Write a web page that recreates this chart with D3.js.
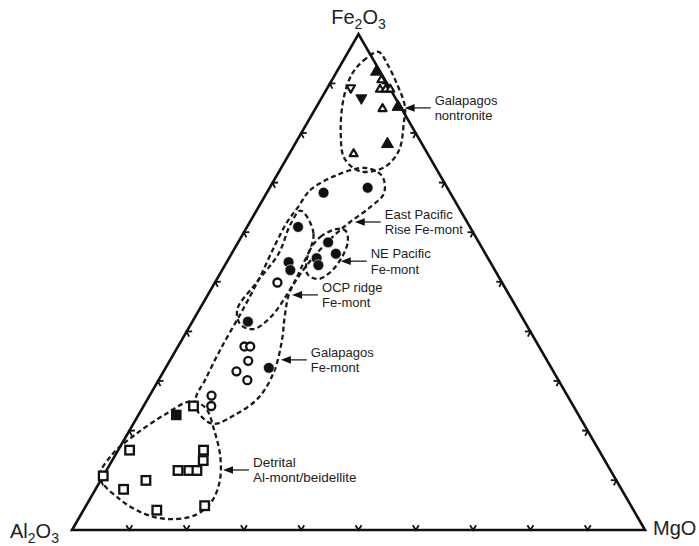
<!DOCTYPE html>
<html><head><meta charset="utf-8">
<script src="https://cdn.jsdelivr.net/npm/d3@7"></script>
<style>body{margin:0;background:#fff}svg{display:block}text{font-family:"Liberation Sans",Arial,Helvetica,sans-serif}</style>
</head><body>
<svg id="c" width="699" height="546"></svg>
<script>
// All compositions as [Fe2O3 %, MgO %]; Al2O3 = 100 - Fe2O3 - MgO
const tickValues = [10,20,30,40,50,60,70,80,90];

const nontroniteFilledUp = [[92.5,6.9],[85.4,14.2],[77.9,16.1]];
const nontroniteOpenUp = [[90.8,8.6],[88.9,9.3],[88.9,10.3],[88.9,11.1],[85.0,11.7],[75.9,11.2]];
const nontroniteOpenDown = [[89.1,4.1]];
const nontroniteFilledDown = [[87.0,7.0]];
const filledCircles = [[68.0,9.9],[69.0,17.1],[61.1,8.9],[54.0,10.8],[52.4,11.9],
  [58.0,15.7],[55.7,18.2],[54.8,15.3],[53.4,16.3],[42.0,9.7],[32.7,18.0]];
const openCircles = [[49.9,10.9],[37.0,11.6],[37.0,12.6],[34.1,13.7],[32.0,12.7],[30.2,15.5],[27.1,10.8],[25.0,11.8]];
const filledSquares = [[23.2,6.6]];
const openSquares = [[25.0,8.7],[16.1,2.0],[10.9,0],[8.2,4.9],[10.0,7.9],[12.0,12.5],[12.0,14.4],[12.0,15.8],
  [16.1,14.9],[14.0,15.9],[4.0,12.8],[4.9,20.7]];

const envNontronite = [[96.4,5.3],[95.1,3.8],[92.1,2.9],[87.0,3.9],[80.0,6.9],[74.9,10.1],[72.3,14.2],[73.1,17.9],
  [76.5,18.8],[82.0,16.9],[85.4,15.4],[90.1,11.6],[93.9,8.1]];
const envEPR = [[65.1,6.9],[68.5,7.3],[71.4,10.2],[73.0,14.6],[71.4,18.4],[67.9,20.5],[65.1,19.5],[62.1,17.5],
  [59.5,16.1],[56.0,14.9],[52.0,14.1],[48.0,14.0],[43.3,15.5],[38.3,17.5],[31.9,19.3],[26.6,19.2],[23.2,16.8],
  [21.4,13.9],[23.8,10.1],[26.6,8.3],[30.2,8.1],[36.3,7.7],[44.4,7.6],[51.0,7.3],[57.5,6.7],[62.1,6.5]];
const envOCP = [[64.4,7.7],[59.7,12.3],[52.6,13.6],[48.0,13.8],[42.9,13.2],[40.5,11.4],[41.5,8.6],[44.5,6.6],[49.6,7.2],[55.7,8.2],[61.7,7.3]];
const envNE = [[56.7,13.3],[59.1,13.8],[60.7,16.0],[60.3,17.6],[58.3,19.0],[55.3,19.6],[52.0,19.1],[50.6,17.6],[51.6,15.3],[54.0,13.9]];
const envDetrital = [[10.7,-0.5],[15.2,-0.6],[19.2,1.4],[23.3,4.6],[25.9,7.7],[24.7,10.9],[20.2,14.7],[14.6,18.6],
  [9.7,20.9],[5.7,21.5],[3.0,20.0],[2.2,16.0],[3.2,11.2],[6.1,5.4]];

const annotationText = [["Galapagos","nontronite"],["East Pacific","Rise Fe-mont"],["NE Pacific","Fe-mont"],
  ["OCP ridge","Fe-mont"],["Galapagos","Fe-mont"],["Detrital","Al-mont/beidellite"]];
const annotationTips = [[85.1,15.5],[62.1,18.3],[54.2,19.8],[47.4,14.7],[34.3,19.3],[12.1,20.3]];

const svg = d3.select("#c");
const xs = d3.scaleLinear().domain([0,100]).range([72,645]);
const ys = d3.scaleLinear().domain([0,100]).range([530,34]);
const P = d => [xs(d[1] + d[0]/2), ys(d[0])];

// envelopes
const line = d3.line().curve(d3.curveCatmullRomClosed.alpha(0.5));
[envNontronite, envEPR, envOCP, envNE, envDetrital].forEach(env => {
  svg.append("path").attr("d", line(env.map(P))).attr("fill","none")
    .attr("stroke","#1a1a1a").attr("stroke-width",2.3).attr("stroke-dasharray","5,3.2");
});

// triangle frame
const A = P([100,0]), L = P([0,0]), R = P([0,100]);
svg.append("path").attr("d", `M${L}L${R}L${A}Z`).attr("fill","none")
  .attr("stroke","#111").attr("stroke-width",2.6).attr("stroke-linejoin","miter");

// ticks (chevrons)
function chev(p, u, n) {
  const s = 5.5;
  const a1 = [p[0] + s*(0.55*u[0] + 0.85*n[0]), p[1] + s*(0.55*u[1] + 0.85*n[1])];
  const a2 = [p[0] + s*(-0.55*u[0] + 0.85*n[0]), p[1] + s*(-0.55*u[1] + 0.85*n[1])];
  svg.append("path").attr("d", `M${a1}L${p}L${a2}`).attr("fill","none").attr("stroke","#111").attr("stroke-width",1.8);
}
tickValues.forEach(t => {
  chev(P([0,t]), [1,0], [0,-1]);
  chev(P([t,0]), [0.5,-0.866], [0.866,0.5]);
  chev(P([t,100-t]), [-0.5,-0.866], [-0.866,0.5]);
});

// symbols
const g = svg.append("g");
function tri(d, up, filled, s) {
  const [x,y] = P(d); const h = s*0.866;
  const pts = up ? [[x, y-h*0.62],[x-s/2, y+h*0.38],[x+s/2, y+h*0.38]]
                 : [[x, y+h*0.62],[x-s/2, y-h*0.38],[x+s/2, y-h*0.38]];
  g.append("path").attr("d","M"+pts.join("L")+"Z")
    .attr("fill", filled ? "#111" : "#fff").attr("stroke","#111").attr("stroke-width", filled ? 1 : 2.2)
    .attr("stroke-linejoin","round");
}
nontroniteOpenUp.forEach(d => tri(d, true, false, 8));
nontroniteFilledUp.forEach(d => tri(d, true, true, 12));
nontroniteOpenDown.forEach(d => tri(d, false, false, 8.5));
nontroniteFilledDown.forEach(d => tri(d, false, true, 11));
openCircles.forEach(d => { const [x,y]=P(d); g.append("circle").attr("cx",x).attr("cy",y).attr("r",4)
  .attr("fill","#fff").attr("stroke","#111").attr("stroke-width",2.3); });
filledCircles.forEach(d => { const [x,y]=P(d); g.append("circle").attr("cx",x).attr("cy",y).attr("r",5.4)
  .attr("fill","#111").attr("stroke","#fff").attr("stroke-width",0.6); });
openSquares.forEach(d => { const [x,y]=P(d); g.append("rect").attr("x",x-4.3).attr("y",y-4.3).attr("width",8.6).attr("height",8.6)
  .attr("fill","#fff").attr("stroke","#111").attr("stroke-width",2.3); });
filledSquares.forEach(d => { const [x,y]=P(d); g.append("rect").attr("x",x-5.3).attr("y",y-5.3).attr("width",10.6).attr("height",10.6)
  .attr("fill","#111"); });

// annotations
const arrowLen = 26;
annotationTips.forEach((tip, i) => {
  const [x,y] = P(tip);
  const fs = i === 5 ? 13.5 : 13;
  svg.append("line").attr("x1",x+6).attr("y1",y).attr("x2",x+arrowLen).attr("y2",y).attr("stroke","#222").attr("stroke-width",1.3);
  svg.append("path").attr("d",`M${x},${y}L${x+10},${y-3.8}L${x+10},${y+3.8}Z`).attr("fill","#111");
  const t = svg.append("text").attr("x", x+arrowLen+4).attr("y", y-3).attr("font-size",fs).attr("fill","#222");
  annotationText[i].forEach((s, j) => t.append("tspan").attr("x", x+arrowLen+4).attr("dy", j===0 ? 0 : 15.5).text(s));
});

// vertex labels
function chem(x, y, parts, anchor) {
  const t = svg.append("text").attr("x",x).attr("y",y).attr("font-size",20).attr("fill","#222").attr("text-anchor",anchor);
  parts.forEach(p => {
    if (p.sub) t.append("tspan").attr("font-size",14).attr("dy",5).text(p.s);
    else t.append("tspan").attr("dy", p.back ? -5 : 0).text(p.s);
  });
}
chem(A[0], 24, [{s:"Fe"},{s:"2",sub:1},{s:"O",back:1},{s:"3",sub:1}], "middle");
chem(10, 538, [{s:"Al"},{s:"2",sub:1},{s:"O",back:1},{s:"3",sub:1}], "start");
chem(653, 535, [{s:"MgO"}], "start");
</script>
</body></html>
